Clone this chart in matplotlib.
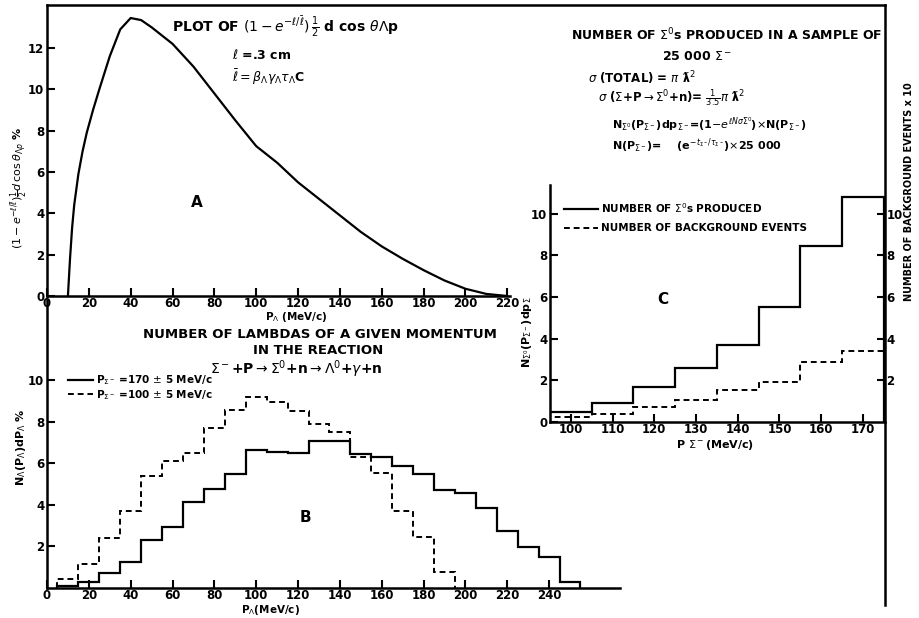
import matplotlib
matplotlib.use("Agg")
import matplotlib.pyplot as plt

# Panel A: (1 - e^-l/lbar) 1/2 d cos theta vs P_Lambda
a_p = [10, 11, 12, 13, 15, 17, 19, 22, 25, 30, 35, 40, 45, 50, 60, 70, 80, 90, 100,
       110, 120, 130, 140, 150, 160, 170, 180, 190, 200, 210, 220]
a_val = [0.0, 1.8, 3.3, 4.4, 5.9, 7.0, 7.9, 9.0, 10.0, 11.6, 12.9, 13.45, 13.35, 13.0,
         12.2, 11.1, 9.8, 8.5, 7.25, 6.45, 5.5, 4.7, 3.9, 3.1, 2.4, 1.8, 1.25, 0.75,
         0.35, 0.1, 0.0]

# Panel B: number of lambdas of a given momentum (10 MeV/c bins)
b_edges_170 = [5, 15, 25, 35, 45, 55, 65, 75, 85, 95, 105, 115, 125, 135, 145, 155,
               165, 175, 185, 195, 205, 215, 225, 235, 245, 255]
b_val_170 = [0.1, 0.3, 0.72, 1.27, 2.3, 2.95, 4.13, 4.75, 5.5, 6.63, 6.55, 6.5, 7.08,
             7.08, 6.44, 6.3, 5.88, 5.5, 4.7, 4.55, 3.83, 2.74, 1.96, 1.5, 0.3]
b_edges_100 = [5, 15, 25, 35, 45, 55, 65, 75, 85, 95, 105, 115, 125, 135, 145, 155,
               165, 175, 185, 195]
b_val_100 = [0.43, 1.15, 2.4, 3.7, 5.4, 6.1, 6.5, 7.7, 8.55, 9.2, 8.95, 8.5, 7.9, 7.5,
             6.3, 5.55, 3.7, 2.47, 0.78]

# Panel C: Sigma0 produced vs background
c_edges = [95, 105, 115, 125, 135, 145, 155, 165, 175]
c_produced = [0.48, 0.9, 1.7, 2.58, 3.7, 5.5, 8.45, 10.8]
c_background = [0.22, 0.38, 0.72, 1.05, 1.53, 1.93, 2.87, 3.42]

W, H = 919, 618
fig = plt.figure(figsize=(W / 100, H / 100), dpi=100)


def rect(left, top, right, bottom):
    return [left / W, 1 - bottom / H, (right - left) / W, (bottom - top) / H]


def put(x, y, s, **kw):
    # text placed at picture pixel coordinates
    kw.setdefault("fontweight", "bold")
    kw.setdefault("va", "center")
    return fig.text(x / W, 1 - y / H, s, **kw)


FS = 8.5


def style(ax):
    for s in ["top", "right"]:
        ax.spines[s].set_visible(False)
    for s in ["left", "bottom"]:
        ax.spines[s].set_linewidth(1.8)
    ax.tick_params(direction="in", length=6, width=1.5, labelsize=FS)
    ax.tick_params(axis="x", pad=1)
    ax.tick_params(axis="y", pad=2)
    for lab in ax.get_xticklabels() + ax.get_yticklabels():
        lab.set_fontweight("bold")
    ax.patch.set_alpha(0)


# outer frame (top and right lines)
frame = fig.add_axes(rect(47, 5, 885, 605))
frame.set_xticks([])
frame.set_yticks([])
frame.spines["left"].set_visible(False)
frame.spines["bottom"].set_visible(False)
frame.spines["top"].set_linewidth(1.8)
frame.spines["right"].set_linewidth(1.8)
frame.patch.set_alpha(0)

# ---- Panel A
axA = fig.add_axes(rect(47, 5, 510, 296))
axA.plot(a_p, a_val, color="black", lw=1.6)
axA.set_xlim(0, 221.3)
axA.set_ylim(0, 14.08)
axA.set_xticks(range(0, 221, 20))
axA.set_yticks(range(0, 13, 2))
style(axA)
put(197, 203, "A", fontsize=11, ha="center")
put(172, 27, r"PLOT OF $(1-e^{-\ell/\bar{\ell}})\,\frac{1}{2}$ d cos $\theta\Lambda$p",
    fontsize=10)
put(232, 55, r"$\ell$ =.3 cm", fontsize=9)
put(232, 77, r"$\bar{\ell}=\beta_\Lambda\gamma_\Lambda\tau_\Lambda$C", fontsize=9)
put(19, 188, r"$(1-e^{-\ell/\bar{\ell}})\frac{1}{2}d\,\cos\theta_{\Lambda p}$ %",
    rotation=90, fontsize=8, ha="center")
put(296, 317, r"P$_\Lambda$ (MeV/c)", fontsize=7.5, ha="center")

# ---- Panel B
axB = fig.add_axes(rect(47, 300, 620, 588))
axB.stairs(b_val_170, b_edges_170, color="black", lw=1.6,
           label=r"P$_{\Sigma^-}$ =170 $\pm$ 5 MeV/c")
axB.stairs(b_val_100, b_edges_100, color="black", lw=1.4, linestyle=(0, (3, 2)),
           label=r"P$_{\Sigma^-}$ =100 $\pm$ 5 MeV/c")
axB.set_xlim(0, (620 - 47) / 2.092)
axB.set_ylim(0, 13.85)
axB.set_xticks(range(0, 241, 20))
axB.set_yticks(range(2, 11, 2))
style(axB)
leg = axB.legend(loc="upper left", bbox_to_anchor=(0.03, 0.76), frameon=False,
                 fontsize=7.5, handlelength=2.4, labelspacing=0.1, borderaxespad=0,
                 handletextpad=0.3)
for t in leg.get_texts():
    t.set_fontweight("bold")
put(320, 334, "NUMBER OF LAMBDAS OF A GIVEN MOMENTUM", fontsize=9.5, ha="center")
put(318, 351, "IN THE REACTION", fontsize=9.5, ha="center")
put(296, 369, r"$\Sigma^-$+P$\rightarrow\Sigma^0$+n$\rightarrow\Lambda^0$+$\gamma$+n",
    fontsize=10, ha="center")
put(305, 518, "B", fontsize=11, ha="center")
put(21, 447, r"N$_\Lambda$(P$_\Lambda$)dP$_\Lambda$ %", rotation=90, fontsize=8,
    ha="center")
put(270, 610, r"P$_\Lambda$(MeV/c)", fontsize=7.5, ha="center")

# ---- Panel C
axC = fig.add_axes(rect(550, 185, 885, 422))
axC.stairs(c_produced, c_edges, color="black", lw=1.6,
           label=r"NUMBER OF $\Sigma^0$s PRODUCED")
axC.stairs(c_background, c_edges, color="black", lw=1.4, linestyle=(0, (3, 2)),
           label="NUMBER OF BACKGROUND EVENTS")
axC.set_xlim(95, 175.3)
axC.set_ylim(0, 11.37)
axC.set_xticks(range(100, 171, 10))
axC.set_yticks(range(0, 11, 2))
style(axC)
legC = axC.legend(loc="upper left", bbox_to_anchor=(0.03, 0.95), frameon=False,
                  fontsize=7.5, handlelength=3.2, labelspacing=0.8, borderaxespad=0,
                  handletextpad=0.3)
for t in legC.get_texts():
    t.set_fontweight("bold")
axR = axC.twinx()
axR.set_ylim(axC.get_ylim())
axR.set_yticks(range(2, 11, 2))
for s in axR.spines.values():
    s.set_visible(False)
axR.tick_params(axis="y", direction="in", length=6, width=1.5, labelsize=FS, pad=1)
for lab in axR.get_yticklabels():
    lab.set_fontweight("bold")

put(663, 300, "C", fontsize=11, ha="center")
put(527, 332, r"N$_{\Sigma^0}$(P$_{\Sigma^-}$)dp$_\Sigma$", rotation=90, fontsize=8,
    ha="center")
put(909, 192, "NUMBER OF BACKGROUND EVENTS x 10", rotation=90, fontsize=7, ha="center")
put(715, 445, r"P $\Sigma^-$(MeV/c)", fontsize=8, ha="center")

put(727, 35, r"NUMBER OF $\Sigma^0$s PRODUCED IN A SAMPLE OF", fontsize=9, ha="center")
put(697, 57, r"25 000 $\Sigma^-$", fontsize=9, ha="center")
put(588, 78, r"$\sigma$ (TOTAL) = $\pi$ ƛ$^2$", fontsize=8.5)
put(598, 98, r"$\sigma$ ($\Sigma$+P$\rightarrow\Sigma^0$+n)= $\frac{1}{3.5}\pi$ ƛ$^2$",
    fontsize=8.5)
put(612, 124,
    r"N$_{\Sigma^0}$(P$_{\Sigma^-}$)dp$_{\Sigma^-}$=(1$-e^{\ell N\sigma\Sigma^0}$)$\times$N(P$_{\Sigma^-}$)",
    fontsize=8)
put(612, 146, r"N(P$_{\Sigma^-}$)=    (e$^{-t_{\Sigma^-}/\tau_{\Sigma^-}}$)$\times$25 000",
    fontsize=8)

fig.savefig("out.png", dpi=100)
